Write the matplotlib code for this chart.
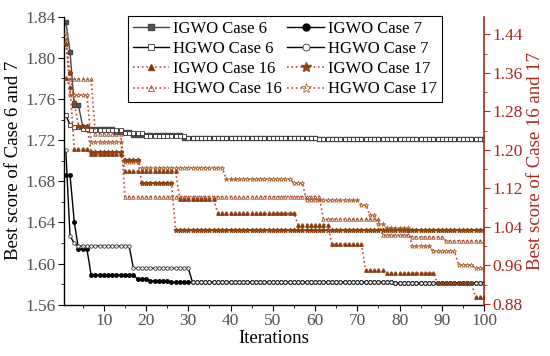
import numpy as np
import matplotlib
matplotlib.use("Agg")
import matplotlib.pyplot as plt
from matplotlib.ticker import MultipleLocator

# iterations
iterations = np.arange(1, 101)

# Case 6 / 7 (left axis): step levels and run lengths
igwo6_levels = [1.835, 1.806, 1.754, 1.733, 1.7305, 1.728, 1.7247, 1.7224, 1.7215]
igwo6_runs = [1, 1, 2, 1, 7, 4, 12, 32, 40]
hgwo6_levels = [1.744, 1.735, 1.733, 1.731, 1.7300, 1.727, 1.7245, 1.7222, 1.7213]
hgwo6_runs = [1, 1, 2, 2, 8, 5, 10, 31, 40]
igwo7_levels = [1.686, 1.6407, 1.614, 1.5889, 1.585, 1.583, 1.5818, 1.581]
igwo7_runs = [2, 1, 3, 11, 3, 5, 53, 22]
hgwo7_levels = [1.7104, 1.6268, 1.6197, 1.617, 1.5954, 1.5818, 1.581]
hgwo7_runs = [1, 1, 1, 13, 14, 48, 22]

# Case 16 / 17 (right axis)
igwo16_levels = [1.349, 1.331, 1.201, 1.1915, 1.156, 1.097, 1.068, 1.045, 1.004,
                 0.950, 0.944, 0.923, 0.895]
igwo16_runs = [1, 1, 4, 8, 13, 9, 19, 8, 8, 5, 12, 9, 3]
hgwo16_levels = [1.43, 1.347, 1.234, 1.103, 1.056, 1.023, 1.019, 1.011]
hgwo16_runs = [1, 6, 7, 47, 14, 7, 8, 10]
igwo17_levels = [1.42, 1.36, 1.30, 1.25, 1.195, 1.18, 1.131, 1.034]
igwo17_runs = [1, 1, 1, 3, 8, 4, 8, 74]
hgwo17_levels = [1.44, 1.314, 1.217, 1.175, 1.163, 1.139, 1.131, 1.095, 1.085,
                 1.065, 1.047, 1.037, 1.0005, 0.989, 0.961, 0.955, 0.952]
hgwo17_runs = [1, 5, 8, 4, 20, 16, 3, 13, 2, 2, 2, 6, 5, 6, 4, 2, 1]

def series(levels, runs):
    return np.repeat(levels, runs)

plt.rcParams['font.family'] = ['Liberation Serif', 'DejaVu Serif']
RED = '#a8281e'
LINE_R = '#c0443a'
BROWN = '#8b4513'

fig = plt.figure(figsize=(5.5, 3.56), dpi=100)
ax = fig.add_axes([0.1158, 0.1441, 0.7642, 0.8089])
ax2 = ax.twinx()

ms = 2.5
ax.plot(iterations, series(igwo6_levels, igwo6_runs), '-', color='#444444', lw=1,
        marker='s', ms=ms, mfc='#555555', mec='#444444', label='IGWO Case 6')
ax.plot(iterations, series(hgwo6_levels, hgwo6_runs), '-', color='black', lw=1,
        marker='s', ms=ms, mfc='white', mec='#333333', mew=0.6, label='HGWO Case 6')
ax.plot(iterations, series(igwo7_levels, igwo7_runs), '-', color='black', lw=1,
        marker='o', ms=ms, mfc='black', mec='black', label='IGWO Case 7')
ax.plot(iterations, series(hgwo7_levels, hgwo7_runs), '-', color='black', lw=1,
        marker='o', ms=ms, mfc='white', mec='#333333', mew=0.6, label='HGWO Case 7')

ax2.plot(iterations, series(hgwo17_levels, hgwo17_runs), ':', color=LINE_R, lw=1.2,
         marker='*', ms=ms + 1, mfc='none', mec='#b0703a', mew=0.6, label='HGWO Case 17')
ax2.plot(iterations, series(hgwo16_levels, hgwo16_runs), ':', color=LINE_R, lw=1.2,
         marker='^', ms=ms, mfc='none', mec='#a0522d', mew=0.6, label='HGWO Case 16')
ax2.plot(iterations, series(igwo17_levels, igwo17_runs), ':', color=LINE_R, lw=1.2,
         marker='*', ms=ms + 1, mfc=BROWN, mec=BROWN, label='IGWO Case 17')
ax2.plot(iterations, series(igwo16_levels, igwo16_runs), ':', color=LINE_R, lw=1.2,
         marker='^', ms=ms, mfc='#8b1a1a', mec=BROWN, label='IGWO Case 16')

ax.set_xlim(0.5, 100)
ax.set_ylim(1.56, 1.84)
ax2.set_ylim(0.8785, 1.4765)

ax.xaxis.set_major_locator(MultipleLocator(10))
ax.xaxis.set_minor_locator(MultipleLocator(5))
ax.yaxis.set_minor_locator(MultipleLocator(0.02))
ax2.yaxis.set_minor_locator(MultipleLocator(0.04))
ax.set_yticks([1.56, 1.60, 1.64, 1.68, 1.72, 1.76, 1.80, 1.84])
ax.set_yticklabels(['1.56', '1.60', '1.64', '1.68', '1.72', '1.76', '1.80', '1.84'])
ax2.set_yticks([0.88, 0.96, 1.04, 1.12, 1.20, 1.28, 1.36, 1.44])
ax2.set_yticklabels(['0.88', '0.96', '1.04', '1.12', '1.20', '1.28', '1.36', '1.44'])

for a in (ax, ax2):
    a.spines['top'].set_visible(False)
ax.spines['right'].set_visible(False)
ax2.spines['left'].set_visible(False)
ax2.spines['bottom'].set_visible(False)
ax2.spines['right'].set_color(RED)
ax2.spines['right'].set_linewidth(1.2)
ax.spines['left'].set_linewidth(1.0)
ax.spines['bottom'].set_linewidth(1.0)

ax.tick_params(axis='both', which='major', direction='out', length=4, labelsize=12.5,
               labelcolor='#505050', pad=2)
ax.tick_params(axis='both', which='minor', direction='out', length=2.5)
ax2.tick_params(axis='y', which='major', direction='out', length=4, labelsize=12.5,
                colors=RED, pad=2)
ax2.tick_params(axis='y', which='minor', direction='out', length=2.5, colors=RED)

ax.set_xlabel('Iterations', fontsize=13.5, labelpad=1)
ax.set_ylabel('Best score of Case 6 and 7', fontsize=13.5, labelpad=2)
ax2.set_ylabel('Best score of Case 16 and 17', fontsize=13.5, color=RED, labelpad=3)

h1, l1 = ax.get_legend_handles_labels()
h2, l2 = ax2.get_legend_handles_labels()
hd = dict(zip(l1 + l2, h1 + h2))
order = ['IGWO Case 6', 'HGWO Case 6', 'IGWO Case 16', 'HGWO Case 16',
         'IGWO Case 7', 'HGWO Case 7', 'IGWO Case 17', 'HGWO Case 17']
leg = ax2.legend([hd[k] for k in order], order, ncol=2, loc='upper left',
                 bbox_to_anchor=(0.152, 1.003), borderaxespad=0, fontsize=12,
                 frameon=True, fancybox=False, edgecolor='black', framealpha=1,
                 markerscale=2.0, handlelength=2.2, columnspacing=0.3,
                 handletextpad=0.25, labelspacing=0.25, borderpad=0.3)
leg.get_frame().set_linewidth(0.8)

fig.savefig('out.png', dpi=100)
